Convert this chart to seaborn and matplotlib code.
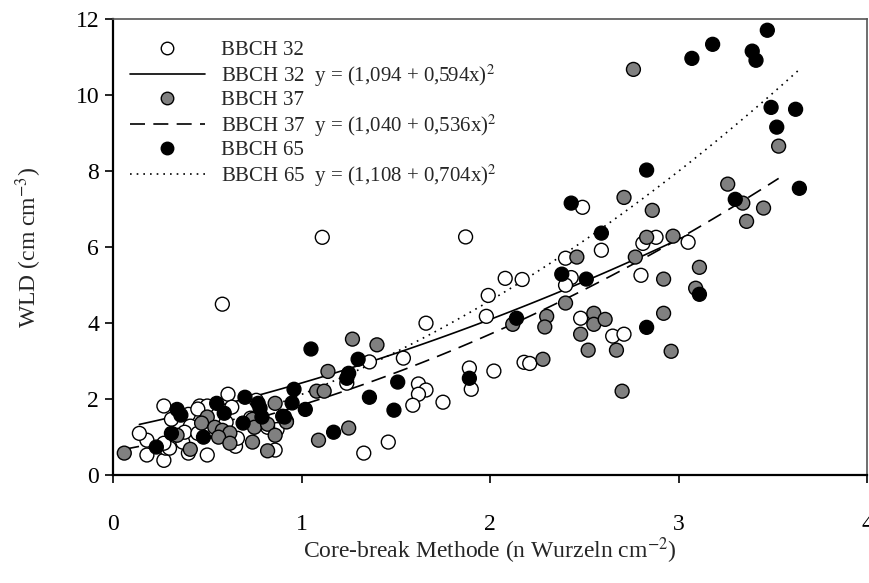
import numpy as np
import pandas as pd
import matplotlib.pyplot as plt
import seaborn as sns
from matplotlib.lines import Line2D

# BBCH 32 (weiss)
x32 = [0.58, 1.11, 1.87, 2.49, 1.99, 1.98, 2.08, 2.17, 1.66, 2.40, 2.43, 2.40, 2.59, 2.81,
       2.88, 3.05, 2.80, 2.48, 2.65, 2.71, 1.36, 1.54, 1.24, 1.62, 1.66, 1.62, 1.59, 1.75,
       1.89, 1.90, 2.02, 2.18, 2.21, 1.46, 1.33, 0.61, 0.27, 0.31, 0.40, 0.46, 0.50, 0.63,
       0.76, 0.87, 0.86, 0.65, 0.50, 0.40, 0.18, 0.27, 0.28, 0.30, 0.18, 0.14, 0.27, 0.37,
       0.41, 0.38, 0.45, 0.60, 0.66, 0.73, 0.82, 0.45]
y32 = [4.50, 6.26, 6.27, 7.05, 4.73, 4.18, 5.18, 5.15, 4.00, 5.71, 5.20, 5.00, 5.92, 6.10,
       6.26, 6.13, 5.26, 4.13, 3.66, 3.71, 2.98, 3.08, 2.42, 2.40, 2.24, 2.13, 1.84, 1.92,
       2.82, 2.26, 2.74, 2.97, 2.94, 0.87, 0.58, 2.13, 1.82, 1.47, 1.60, 1.82, 1.82, 1.79,
       1.97, 1.20, 0.66, 0.76, 0.53, 0.58, 0.53, 0.39, 0.71, 0.71, 0.92, 1.10, 0.84, 0.87,
       1.29, 1.13, 1.10, 1.39, 0.97, 1.50, 1.26, 1.74]

# BBCH 37 (grau)
x37 = [2.76, 3.53, 3.26, 3.34, 3.45, 3.36, 2.71, 2.86, 2.83, 2.97, 2.46, 2.77, 2.40, 2.30,
       2.29, 2.28, 2.55, 2.55, 2.61, 2.48, 2.52, 2.67, 2.70, 2.92, 2.92, 2.96, 3.11, 3.09,
       2.12, 1.27, 1.40, 1.14, 1.08, 1.12, 0.92, 1.09, 1.25, 0.06, 0.50, 0.47, 0.86, 0.92,
       0.74, 0.75, 0.82, 0.86, 0.74, 0.82, 0.54, 0.58, 0.62, 0.56, 0.62, 0.34, 0.41]
y37 = [10.68, 8.66, 7.66, 7.16, 7.03, 6.68, 7.31, 6.97, 6.26, 6.29, 5.74, 5.74, 4.53, 4.18,
       3.90, 3.05, 4.26, 3.97, 4.10, 3.71, 3.29, 3.29, 2.21, 5.16, 4.26, 3.26, 5.47, 4.92,
       3.97, 3.58, 3.43, 2.73, 2.21, 2.21, 1.42, 0.92, 1.24, 0.58, 1.53, 1.37, 1.89, 1.40,
       1.47, 1.26, 1.34, 1.05, 0.87, 0.64, 1.26, 1.18, 1.11, 1.00, 0.84, 1.05, 0.68]

# BBCH 65 (schwarz)
x65 = [3.47, 3.18, 3.07, 3.39, 3.41, 3.49, 3.62, 3.52, 2.83, 3.30, 3.64, 2.43, 2.59, 2.38,
       2.51, 2.83, 3.11, 2.14, 1.05, 1.30, 1.25, 1.24, 0.96, 0.95, 1.02, 0.91, 1.51, 1.36,
       1.49, 1.89, 1.17, 0.70, 0.34, 0.36, 0.55, 0.59, 0.69, 0.77, 0.78, 0.79, 0.90, 0.48,
       0.31, 0.23]
y65 = [11.71, 11.34, 10.97, 11.16, 10.92, 9.68, 9.63, 9.16, 8.03, 7.26, 7.55, 7.16, 6.37, 5.29,
       5.16, 3.89, 4.76, 4.13, 3.32, 3.05, 2.68, 2.55, 2.26, 1.90, 1.73, 1.53, 2.45, 2.05,
       1.71, 2.55, 1.13, 2.05, 1.73, 1.58, 1.89, 1.63, 1.37, 1.89, 1.76, 1.53, 1.55, 1.00,
       1.10, 0.74]

gruppen = ['BBCH 32', 'BBCH 37', 'BBCH 65']
gleichungen = ['y = (1,094 + 0,594x)$^{2}$', 'y = (1,040 + 0,536x)$^{2}$', 'y = (1,108 + 0,704x)$^{2}$']

df = pd.concat([
    pd.DataFrame({'x': x32, 'y': y32, 'Stadium': 'BBCH 32'}),
    pd.DataFrame({'x': x37, 'y': y37, 'Stadium': 'BBCH 37'}),
    pd.DataFrame({'x': x65, 'y': y65, 'Stadium': 'BBCH 65'}),
], ignore_index=True)

sns.set_theme(style="white")
plt.rcParams['font.family'] = ['Liberation Serif', 'DejaVu Serif']
plt.rcParams['mathtext.fontset'] = 'stix'

farben = {'BBCH 32': 'white', 'BBCH 37': '#808080', 'BBCH 65': 'black'}
linien = {'BBCH 32': '-', 'BBCH 37': (0, (9, 5)), 'BBCH 65': (0, (1, 3))}

fig = plt.figure(figsize=(8.69, 5.83), dpi=100)
ax = fig.add_axes([0.130, 0.185, 0.868, 0.782])

sns.scatterplot(data=df, x='x', y='y', hue='Stadium', palette=farben, s=100,
                edgecolor='black', linewidth=1.0, legend=False, ax=ax, zorder=3)

# Regression y = (a + b x)^2, gewichtet, damit es etwa dem Fehler in y entspricht
for g in gruppen:
    sub = df[df.Stadium == g]
    b, a = np.polyfit(sub.x, np.sqrt(sub.y), 1, w=np.sqrt(sub.y))
    xs = np.linspace(sub.x.min(), sub.x.max(), 100)
    ax.plot(xs, (a + b * xs) ** 2, color='black', lw=1.2, ls=linien[g], zorder=2)

ax.set_xlim(0, 4)
ax.set_ylim(0, 12)
ax.set_xticks([0, 1, 2, 3, 4])
ax.set_yticks(range(0, 13, 2))
ax.tick_params(direction='out', length=6, width=1.2, labelsize=17, colors='black',
               left=True, bottom=True, pad=4)
ax.tick_params(axis='x', pad=22)
for s in ['left', 'bottom']:
    ax.spines[s].set_linewidth(1.6)
    ax.spines[s].set_color('black')
for s in ['top', 'right']:
    ax.spines[s].set_linewidth(1.2)
    ax.spines[s].set_color('#555555')

ax.set_xlabel('Core-break Methode (n Wurzeln cm$^{-2}$)', fontsize=17, labelpad=0)
ax.set_ylabel('WLD (cm cm$^{-3}$)', fontsize=17, labelpad=23)

handles, labels = [], []
for g, eq in zip(gruppen, gleichungen):
    handles.append(Line2D([], [], ls='none', marker='o', markersize=9,
                          markerfacecolor=farben[g], markeredgecolor='black'))
    labels.append(g)
    handles.append(Line2D([], [], color='black', lw=1.2, ls=linien[g]))
    labels.append(g + '  ' + eq)
ax.legend(handles, labels, loc='upper left', bbox_to_anchor=(0.0, 0.99), frameon=False,
          fontsize=15, handlelength=3.6, handletextpad=0.8, labelspacing=0.1,
          borderaxespad=0.3, borderpad=0.5)

fig.savefig('out.png', dpi=100)
